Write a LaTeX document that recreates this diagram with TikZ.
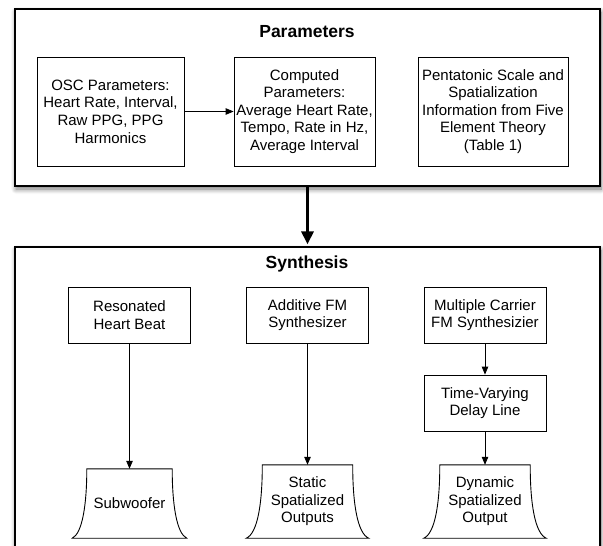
\documentclass[tikz,border=0pt]{standalone}
\usepackage{fontspec}
\setmainfont{Liberation Sans}
\usetikzlibrary{arrows.meta,shadows.blur,calc}
\begin{document}
\begin{tikzpicture}[x=1pt,y=-1pt,
  every node/.style={font=\fontsize{15}{17.6}\selectfont, align=center},
  frame/.style={draw, line width=2.6pt, fill=white, inner sep=0pt,
    blur shadow={shadow xshift=1pt, shadow yshift=-3pt, shadow blur radius=5pt, shadow blur steps=8, shadow opacity=55}},
  box/.style={draw, line width=0.8pt, inner sep=0pt},
  titletext/.style={font=\fontsize{17.5}{20}\selectfont\bfseries},
  link/.style={line width=0.8pt, -{Triangle[length=8pt,width=6.5pt]}},
  bigarrow/.style={line width=3pt, -{Triangle[length=13pt,width=12pt]}, shorten >=1.3pt},
  spk/.style={inner sep=0pt},
  spkshape/.style={draw, line width=0.9pt}
]
\useasboundingbox (0,0) rectangle (603,546);
\begin{scope}
\clip (0,0) rectangle (603,546);
% frames
\node[frame, minimum width=585, minimum height=177] (params) at (307.5,97.5) {};
\node[frame, minimum width=585, minimum height=330] (synth) at (307.5,412) {};
\node[titletext] (ptitle) at (307,32) {Parameters};
\node[titletext] (stitle) at (307,264) {Synthesis};
% parameter boxes
\node[box, minimum width=147, minimum height=109] (osc) at (110.5,111.5) {OSC Parameters:\\Heart Rate, Interval,\\Raw PPG, PPG\\Harmonics};
\node[box, minimum width=141, minimum height=109] (comp) at (304.5,111.5) {Computed\\Parameters:\\Average Heart Rate,\\Tempo, Rate in Hz,\\Average Interval};
\node[box, minimum width=150, minimum height=109] (penta) at (493,111.5) {Pentatonic Scale and\\Spatialization\\Information from Five\\Element Theory\\(Table 1)};
\draw[link] (osc) -- (comp);
% synthesis boxes
\node[box, minimum width=122, minimum height=56] (res) at (129.5,315) {Resonated\\Heart Beat};
\node[box, minimum width=122, minimum height=56] (add) at (307.5,315) {Additive FM\\Synthesizer};
\node[box, minimum width=122, minimum height=56] (mult) at (485,315) {Multiple Carrier\\FM Synthesizier};
\node[box, minimum width=122, minimum height=56] (tvd) at (485,403) {Time-Varying\\Delay Line};
% outputs
\node[spk, minimum width=85, minimum height=69] (sub) at (129.5,503.5) {Subwoofer};
\node[spk, minimum width=90, minimum height=73] (stat) at (307.5,501.5) {Static\\Spatialized\\Outputs};
\node[spk, minimum width=90, minimum height=73] (dyn) at (485,501.5) {Dynamic\\Spatialized\\Output};
\foreach \n/\f in {sub/14.5, stat/16, dyn/16}{
  \draw[spkshape] (\n.north west) -- (\n.north east)
    .. controls ($(\n.south east)+(0,-34)$) and ($(\n.south east)+(0.3*\f,-5)$) .. ($(\n.south east)+(\f,0)$)
    -- ($(\n.south west)+(-\f,0)$)
    .. controls ($(\n.south west)+(-0.3*\f,-5)$) and ($(\n.south west)+(0,-34)$) .. (\n.north west) -- cycle;
}
\draw[link] (res) -- (sub);
\draw[link] (add) -- (stat);
\draw[link] (mult) -- (tvd);
\draw[link] (tvd) -- (dyn);
\draw[bigarrow] (params.south) -- (synth.north);
\end{scope}
\end{tikzpicture}
\end{document}
